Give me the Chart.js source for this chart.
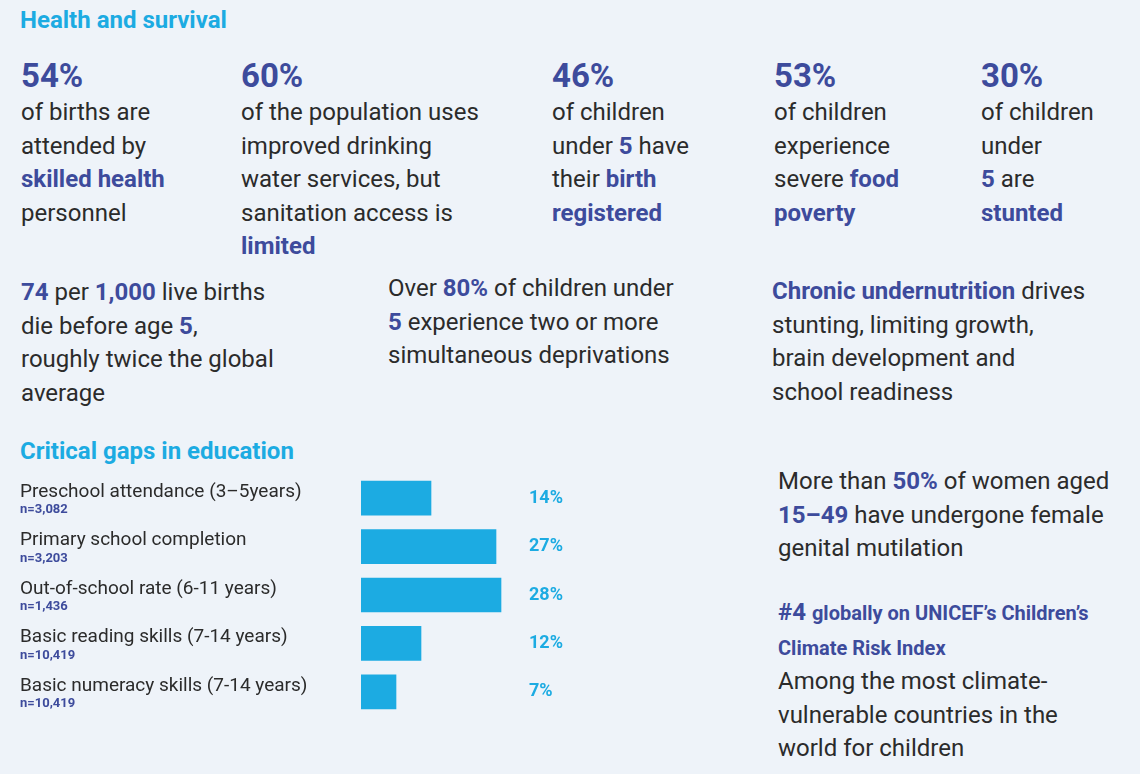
<!DOCTYPE html>
<html>
<head>
<meta charset="utf-8">
<script src="https://cdn.jsdelivr.net/npm/chart.js@4"></script>
<style>
  body { margin:0; background:#eef3f9; font-family:"Liberation Sans Narrow", Roboto, sans-serif; color:#2b2b2b; }
  #page { position:relative; width:1140px; height:774px; overflow:hidden; }
  .t { position:absolute; font-size:24px; line-height:33.5px; }
  .h { position:absolute; color:#1cabe2; font-weight:bold; font-size:24px; }
  .big { color:#3d4b9c; font-weight:bold; font-size:33px; line-height:40px; display:block; }
  b { color:#3d4b9c; }
  #wrap { position:absolute; left:20px; top:470px; width:580px; height:250px; }
</style>
</head>
<body>
<div id="page">
  <div class="h" style="left:20px;top:6px">Health and survival</div>
  <div class="t" style="left:21px;top:56px"><span class="big">54%</span>of births are<br>attended by<br><b>skilled health</b><br>personnel</div>
  <div class="t" style="left:241px;top:56px"><span class="big">60%</span>of the population uses<br>improved drinking<br>water services, but<br>sanitation access is<br><b>limited</b></div>
  <div class="t" style="left:552px;top:56px"><span class="big">46%</span>of children<br>under <b>5</b> have<br>their <b>birth</b><br><b>registered</b></div>
  <div class="t" style="left:774px;top:56px"><span class="big">53%</span>of children<br>experience<br>severe <b>food</b><br><b>poverty</b></div>
  <div class="t" style="left:981px;top:56px"><span class="big">30%</span>of children<br>under<br><b>5</b> are<br><b>stunted</b></div>
  <div class="t" style="left:21px;top:276px"><b>74</b> per <b>1,000</b> live births<br>die before age <b>5</b>,<br>roughly twice the global<br>average</div>
  <div class="t" style="left:388px;top:272px">Over <b>80%</b> of children under<br><b>5</b> experience two or more<br>simultaneous deprivations</div>
  <div class="t" style="left:772px;top:275px"><b>Chronic undernutrition</b> drives<br>stunting, limiting growth,<br>brain development and<br>school readiness</div>
  <div class="h" style="left:20px;top:437px">Critical gaps in education</div>
  <div class="t" style="left:778px;top:465px">More than <b>50%</b> of women aged<br><b>15–49</b> have undergone female<br>genital mutilation</div>
  <div class="t" style="left:778px;top:596px"><b>#4</b> <b style="font-size:20px">globally on UNICEF’s Children’s</b><br><b style="font-size:20px">Climate Risk Index</b><br>Among the most climate-<br>vulnerable countries in the<br>world for children</div>
  <div id="wrap"><canvas id="c"></canvas></div>
</div>
<script>
const categories = ['Preschool attendance (3–5years)', 'Primary school completion', 'Out-of-school rate (6-11 years)', 'Basic reading skills (7-14 years)', 'Basic numeracy skills (7-14 years)'];
const sampleSizes = ['n=3,082', 'n=3,203', 'n=1,436', 'n=10,419', 'n=10,419'];
const values = [14, 27, 28, 12, 7];

const labelPlugin = {
  id: 'labels',
  afterDatasetsDraw(chart) {
    const ctx = chart.ctx;
    const meta = chart.getDatasetMeta(0);
    meta.data.forEach((bar, i) => {
      ctx.save();
      ctx.textBaseline = 'middle';
      ctx.fillStyle = '#2b2b2b';
      ctx.font = '19px "Liberation Sans Narrow", Roboto, sans-serif';
      ctx.fillText(categories[i], 0, bar.y - 6);
      ctx.fillStyle = '#3d4b9c';
      ctx.font = 'bold 13px "Liberation Sans Narrow", Roboto, sans-serif';
      ctx.fillText(sampleSizes[i], 0, bar.y + 12);
      ctx.fillStyle = '#1cabe2';
      ctx.font = 'bold 18px "Liberation Sans Narrow", Roboto, sans-serif';
      ctx.fillText(values[i] + '%', 509, bar.y);
      ctx.restore();
    });
  }
};

new Chart(document.getElementById('c'), {
  type: 'bar',
  data: {
    labels: categories,
    datasets: [{ data: values, backgroundColor: '#1cabe2', barThickness: 34 }]
  },
  options: {
    indexAxis: 'y',
    responsive: true,
    maintainAspectRatio: false,
    animation: false,
    layout: { padding: { left: 341, right: 19, top: 4, bottom: 4 } },
    plugins: { legend: { display: false }, tooltip: { enabled: false } },
    scales: {
      x: { min: 0, max: 44, display: false },
      y: { display: false }
    }
  },
  plugins: [labelPlugin]
});
</script>
</body>
</html>
